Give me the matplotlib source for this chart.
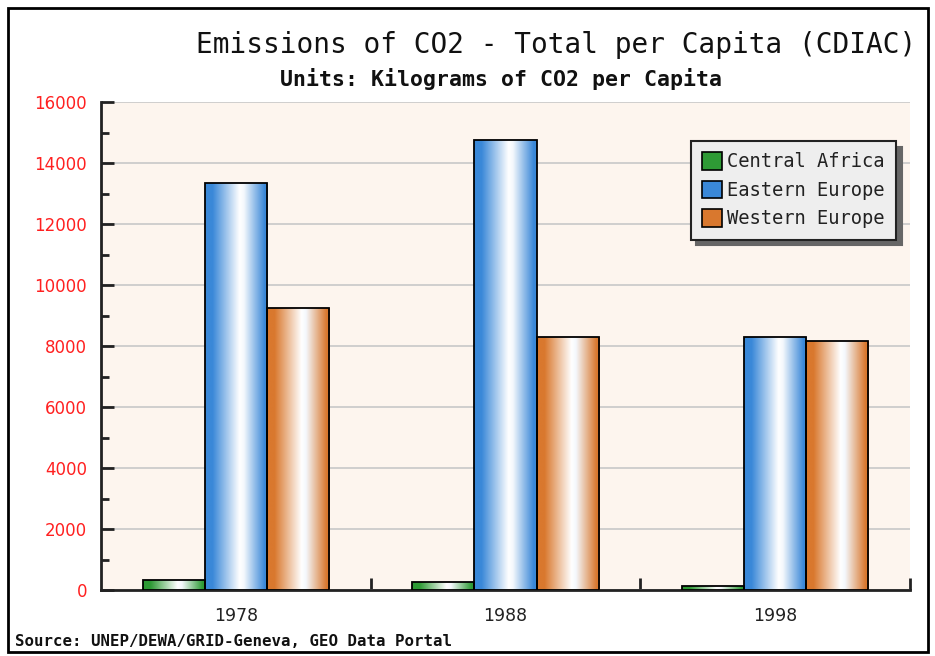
import numpy as np
import matplotlib
matplotlib.use("Agg")
import matplotlib.pyplot as plt
from matplotlib.colors import LinearSegmentedColormap
from matplotlib.patches import Rectangle
from matplotlib.ticker import MultipleLocator, FixedLocator

# ---- data ----
years = ["1978", "1988", "1998"]
series_names = ["Central Africa", "Eastern Europe", "Western Europe"]
central_africa = [320, 260, 130]
eastern_europe = [13350, 14760, 8300]
western_europe = [9230, 8290, 8180]
y_ticks = [0, 2000, 4000, 6000, 8000, 10000, 12000, 14000, 16000]

colors = ["#2e9a35", "#3a88d8", "#d9782e"]

fig = plt.figure(figsize=(9.35, 6.56), dpi=100)
fig.patch.set_facecolor("white")
ax = fig.add_axes([101/935, 1-590/656, 809/935, 488/656])
ax.set_facecolor("#fdf5ee")

x = np.arange(len(years))
width = 0.23
offsets = [-width, 0, width]
all_vals = [central_africa, eastern_europe, western_europe]

grad = np.linspace(0, 1, 256).reshape(1, -1)
for vals, off, col, name in zip(all_vals, offsets, colors, series_names):
    bars = ax.bar(x + off, vals, width, facecolor="none", edgecolor="black",
                  linewidth=1.3, zorder=4, label=name)
    cmap = LinearSegmentedColormap.from_list(
        "g", [(0, col), (0.12, col), (0.55, "#ffffff"), (0.62, "#f4f8fc"), (0.95, col), (1, col)])
    for b in bars:
        x0, y0, w, h = b.get_x(), b.get_y(), b.get_width(), b.get_height()
        im = ax.imshow(grad, extent=[x0, x0 + w, y0, y0 + h], aspect="auto",
                       cmap=cmap, zorder=3, origin="lower", interpolation="bilinear")
        im.set_clip_path(b)

ax.set_xlim(-0.5, 2.5)
ax.set_ylim(0, 16000)

# y axis
ax.yaxis.set_major_locator(FixedLocator(y_ticks))
ax.yaxis.set_minor_locator(MultipleLocator(1000))
ax.tick_params(axis="y", which="major", direction="in", length=9, width=2,
               labelcolor="#ff2020", labelsize=12, pad=10, color="#222222")
ax.tick_params(axis="y", which="minor", direction="in", length=6, width=2, color="#222222")
ax.grid(axis="y", which="major", color="#c8c8c8", linewidth=1.2, zorder=1)
ax.set_axisbelow(True)

# x axis: boundary ticks (major), labels at centers (minor)
ax.xaxis.set_major_locator(FixedLocator([0.5, 1.5, 2.5]))
ax.xaxis.set_major_formatter(plt.NullFormatter())
ax.xaxis.set_minor_locator(FixedLocator(x))
ax.set_xticks(x, years, minor=True)
ax.tick_params(axis="x", which="major", direction="in", length=9, width=2, color="#222222")
ax.tick_params(axis="x", which="minor", length=0, labelsize=12.5, pad=12, labelcolor="#222222")

for s in ["top", "right"]:
    ax.spines[s].set_visible(False)
for s in ["left", "bottom"]:
    ax.spines[s].set_linewidth(2)
    ax.spines[s].set_color("#222222")

# legend
handles = [Rectangle((0, 0), 1, 1, facecolor=c, edgecolor="black", linewidth=1.2) for c in colors]
leg = ax.legend(handles, series_names, loc="upper right", bbox_to_anchor=(0.983, 0.92),
                borderaxespad=0, fancybox=False, frameon=True, framealpha=1,
                facecolor="#eeeeee", edgecolor="#222222",
                prop={"family": "DejaVu Sans Mono", "size": 13.5},
                handlelength=1.05, handleheight=1.05, handletextpad=0.3,
                labelspacing=0.5, borderpad=0.6,
                shadow={"ox": 4, "oy": -4, "color": "#666666", "alpha": 1})
leg.get_frame().set_linewidth(1.5)
for t in leg.get_texts():
    t.set_color("#222222")

# titles
fig.text(0.595, 0.931, "Emissions of CO2 - Total per Capita (CDIAC)",
         ha="center", va="center", family="DejaVu Sans Mono", fontsize=20, color="#111111")
fig.text(0.536, 0.879, "Units: Kilograms of CO2 per Capita",
         ha="center", va="center", family="DejaVu Sans Mono", fontsize=15.5,
         fontweight="bold", color="#111111")
fig.text(15/935, 1-641/656, "Source: UNEP/DEWA/GRID-Geneva, GEO Data Portal",
         ha="left", va="center", family="DejaVu Sans Mono", fontsize=11.3,
         fontweight="bold", color="#111111")

# outer border
fig.patches.append(Rectangle((8/935, 1-652/656), 920/935, 644/656, transform=fig.transFigure,
                             fill=False, edgecolor="black", linewidth=2))

fig.savefig("out.png", dpi=100)
